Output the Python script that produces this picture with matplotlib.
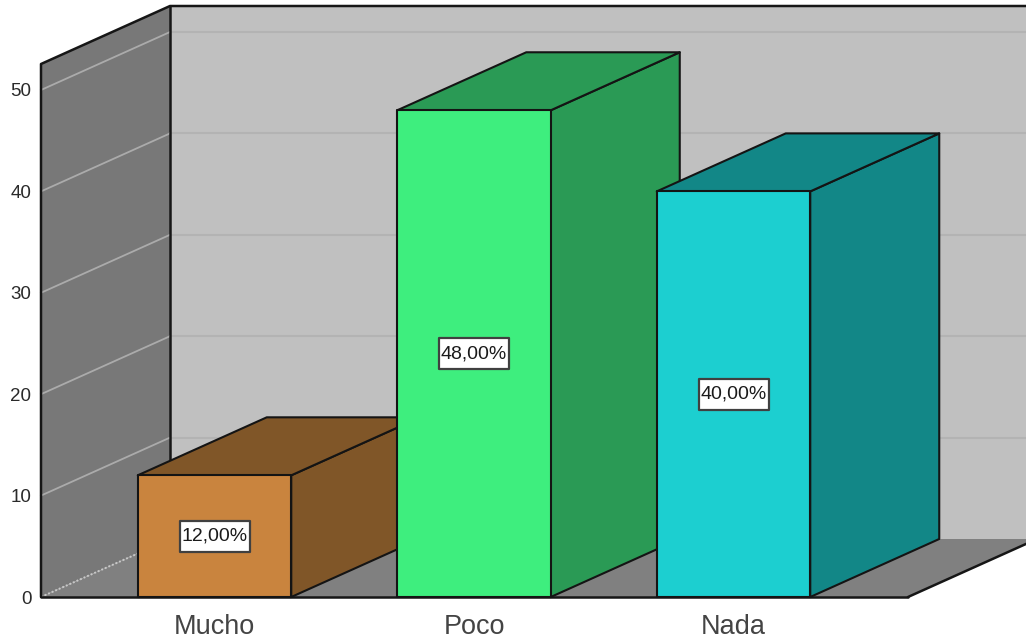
import matplotlib
matplotlib.use("Agg")
import matplotlib.pyplot as plt
from matplotlib.patches import Polygon

categories = ["Mucho", "Poco", "Nada"]
percentages = [12.0, 48.0, 40.0]
y_ticks = [0, 10, 20, 30, 40, 50]

front_colors = ["#C9843E", "#3EEE7E", "#1CCFD0"]
side_colors = ["#805628", "#2A9A55", "#128787"]
top_colors = ["#805628", "#2A9A55", "#128787"]

W, H = 1026, 638
AX_L, AX_R, AX_T, AX_B = 41, 908, 64, 597
plt.rcParams["font.family"] = ["Liberation Sans", "DejaVu Sans"]

fig = plt.figure(figsize=(W / 100, H / 100), dpi=100, facecolor="white")
ax = fig.add_axes([AX_L / W, 1 - AX_B / H, (AX_R - AX_L) / W, (AX_B - AX_T) / H])

# Category spacing and y scale
STEP = 259.5
UNIT = 10.14
X0 = (214.5 - AX_L) / STEP
ax.set_xlim(-X0, (AX_R - AX_L) / STEP - X0)
YMAX = (AX_B - AX_T) / UNIT
ax.set_ylim(0, YMAX)

# Oblique depth of the box, in data units
DX = 129 / STEP
DY = 58 / UNIT
BAR_W = 153.5 / STEP

# Size of the white value boxes, in data units
BOX_W = 70 / STEP
BOX_H = 31 / UNIT

xl, xr = ax.get_xlim()
far = xr + DX


def poly(pts, fc, ec="#141414", lw=1.5, z=1):
    ax.add_patch(Polygon(pts, closed=True, facecolor=fc, edgecolor=ec,
                         linewidth=lw, zorder=z, clip_on=False, joinstyle="round"))


# Back wall, side wall and floor
poly([(xl + DX, DY), (far, DY), (far, YMAX + DY), (xl + DX, YMAX + DY)], "#C0C0C0", "none", 0, 1)
poly([(xl, 0), (xl + DX, DY), (xl + DX, YMAX + DY), (xl, YMAX)], "#787878", "none", 0, 1)
poly([(xl, 0), (xr, 0), (far, DY), (xl + DX, DY)], "#808080", "none", 0, 1)

# Gridlines run along the side wall and across the back wall
for t in y_ticks[1:]:
    ax.plot([xl, xl + DX], [t, t + DY], color="#ABABAB", lw=1.3, zorder=2, clip_on=False)
    ax.plot([xl + DX, far], [t + DY, t + DY], color="#B3B3B3", lw=1.5, zorder=2, clip_on=False)
ax.plot([xl, xl + DX], [0, DY], color="#C8C8C8", lw=1.4, ls=(0, (1, 1)), zorder=2)

# Wall outlines
k = dict(color="#161616", lw=1.8, zorder=3, clip_on=False, solid_capstyle="round")
ax.plot([xl, xl, xl + DX, far], [0, YMAX, YMAX + DY, YMAX + DY], **k)
ax.plot([xl + DX, xl + DX], [DY, YMAX + DY], **k)
ax.plot([xl, xr], [0, 0], **k)
ax.plot([xr, far], [0, DY], **k)

# Bars, drawn left to right so that nearer boxes overlap
for i, (name, val) in enumerate(zip(categories, percentages)):
    a, b = i - BAR_W / 2, i + BAR_W / 2
    z = 5 + i
    poly([(b, 0), (b + DX, DY), (b + DX, val + DY), (b, val)], side_colors[i], z=z)
    poly([(a, val), (b, val), (b + DX, val + DY), (a + DX, val + DY)], top_colors[i], z=z)
    poly([(a, 0), (b, 0), (b, val), (a, val)], front_colors[i], z=z)
    label = f"{val:.2f}%".replace(".", ",")
    mid = val / 2
    poly([(i - BOX_W / 2, mid - BOX_H / 2), (i + BOX_W / 2, mid - BOX_H / 2),
          (i + BOX_W / 2, mid + BOX_H / 2), (i - BOX_W / 2, mid + BOX_H / 2)],
         "white", ec="#404040", lw=1.6, z=z)
    ax.text(i, mid, label, ha="center", va="center", fontsize=14, color="#1A1A1A", zorder=z + 1)

ax.set_xticks(range(len(categories)), categories)
ax.set_yticks(y_ticks)
ax.tick_params(axis="x", length=0, pad=12, labelsize=19.5, labelcolor="#444444")
ax.tick_params(axis="y", length=0, pad=7, labelsize=13.5, labelcolor="#2A2A2A")
for s in ax.spines.values():
    s.set_visible(False)
ax.patch.set_visible(False)

fig.savefig("out.png", dpi=100, facecolor="white")
